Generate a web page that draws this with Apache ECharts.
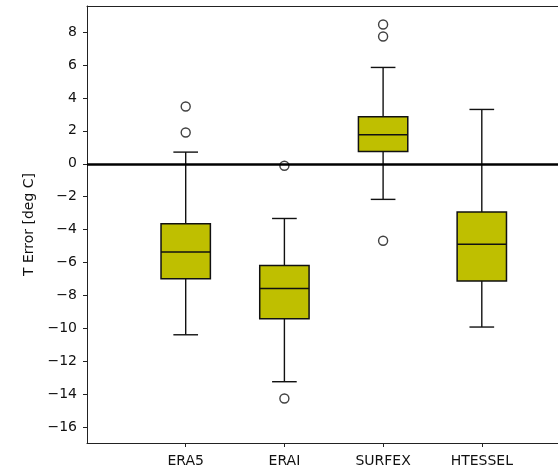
<!DOCTYPE html>
<html><head><meta charset="utf-8">
<script src="https://cdn.jsdelivr.net/npm/echarts@6/dist/echarts.min.js"></script>
<style>html,body{margin:0;padding:0;background:#fff}#c{width:558px;height:471px}</style>
</head><body><div id="c"></div>
<script>
const categories = ['ERA5', 'ERAI', 'SURFEX', 'HTESSEL'];
const whiskerLow  = [-10.38, -13.23, -2.16, -9.91];
const q1          = [-6.98, -9.41, 0.75, -7.12];
const median      = [-5.36, -7.57, 1.76, -4.88];
const q3          = [-3.64, -6.17, 2.86, -2.93];
const whiskerHigh = [0.71, -3.32, 5.85, 3.30];
const outlierCat  = ['ERA5', 'ERA5', 'ERAI', 'ERAI', 'SURFEX', 'SURFEX', 'SURFEX'];
const outlierVal  = [3.48, 1.90, -0.12, -14.25, 8.46, 7.73, -4.67];
const yTicks = [-16, -14, -12, -10, -8, -6, -4, -2, 0, 2, 4, 6, 8];

const FONT = 'DejaVu Sans';
const pos = c => categories.indexOf(c) + 1;
const boxData = categories.map((c, i) => [pos(c), whiskerLow[i], q1[i], median[i], q3[i], whiskerHigh[i]]);
const outData = outlierCat.map((c, i) => [pos(c), outlierVal[i]]);
const fmt = v => (v < 0 ? '\u2212' + Math.abs(v) : String(v));

const chart = echarts.init(document.getElementById('c'), null, {renderer: 'canvas'});
chart.setOption({
  animation: false,
  backgroundColor: '#fff',
  grid: {left: 87, top: 6, bottom: 28, right: 0, show: false},
  xAxis: [{
    type: 'value', min: 0, max: 4.772,
    axisLine: {show: true, onZero: false, lineStyle: {color: '#222', width: 1}},
    axisTick: {show: true, length: 4, lineStyle: {color: '#222'}, customValues: [1, 2, 3, 4]},
    axisLabel: {customValues: [1, 2, 3, 4], formatter: v => categories[v - 1] || '', color: '#111', fontFamily: FONT, fontSize: 14, margin: 11},
    splitLine: {show: false}
  }, {
    type: 'value', min: 0, max: 4.772, position: 'top',
    axisLine: {show: true, onZero: false, lineStyle: {color: '#222', width: 1}},
    axisTick: {show: false}, axisLabel: {show: false}, splitLine: {show: false}
  }],
  yAxis: {
    type: 'value', min: -16.95, max: 9.58,
    name: 'T Error [deg C]', nameLocation: 'middle', nameGap: 41, nameRotate: 90,
    nameTextStyle: {color: '#111', fontFamily: FONT, fontSize: 14},
    axisLine: {show: true, onZero: false, lineStyle: {color: '#222', width: 1}},
    axisTick: {show: true, length: 4, lineStyle: {color: '#222'}, customValues: yTicks},
    axisLabel: {customValues: yTicks, formatter: fmt, color: '#111', fontFamily: FONT, fontSize: 14, margin: 10},
    splitLine: {show: false}
  },
  series: [
    {
      type: 'custom',
      data: boxData,
      encode: {x: 0, y: [1, 2, 3, 4, 5]},
      renderItem: function (params, api) {
        const x = api.value(0);
        const lo = api.coord([x, api.value(1)]);
        const b = api.coord([x, api.value(2)]);
        const m = api.coord([x, api.value(3)]);
        const t = api.coord([x, api.value(4)]);
        const hi = api.coord([x, api.value(5)]);
        const bw = api.size([0.5, 0])[0];
        const cw = api.size([0.25, 0])[0];
        const cx = lo[0];
        const ls = {stroke: '#111', lineWidth: 1.4};
        return {
          type: 'group',
          children: [
            {type: 'line', shape: {x1: cx, y1: hi[1], x2: cx, y2: t[1]}, style: ls},
            {type: 'line', shape: {x1: cx, y1: b[1], x2: cx, y2: lo[1]}, style: ls},
            {type: 'line', shape: {x1: cx - cw / 2, y1: hi[1], x2: cx + cw / 2, y2: hi[1]}, style: ls},
            {type: 'line', shape: {x1: cx - cw / 2, y1: lo[1], x2: cx + cw / 2, y2: lo[1]}, style: ls},
            {type: 'rect', shape: {x: cx - bw / 2, y: t[1], width: bw, height: b[1] - t[1]}, style: {fill: '#bfbf00', stroke: '#111', lineWidth: 1.5}},
            {type: 'line', shape: {x1: cx - bw / 2, y1: m[1], x2: cx + bw / 2, y2: m[1]}, style: {stroke: '#111', lineWidth: 1.5}}
          ]
        };
      },
      markLine: {
        silent: true, symbol: ['none', 'none'], label: {show: false},
        lineStyle: {color: '#000', width: 2.5, type: 'solid'},
        data: [{yAxis: 0}]
      },
      z: 2
    },
    {
      type: 'scatter',
      data: outData,
      symbol: 'circle', symbolSize: 9,
      itemStyle: {color: '#fff', borderColor: '#111', borderWidth: 1.4},
      z: 3
    }
  ]
});
</script></body></html>
